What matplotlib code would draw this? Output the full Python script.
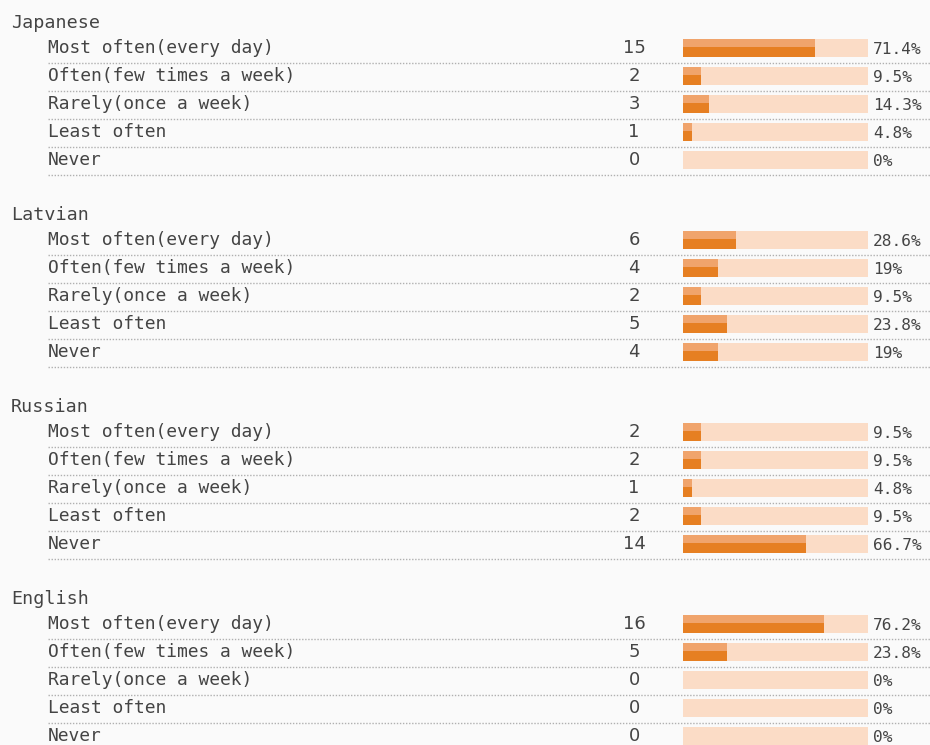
import matplotlib
matplotlib.use("Agg")
import matplotlib.pyplot as plt

groups = ["Japanese", "Latvian", "Russian", "English"]
answers = ["Most often(every day)", "Often(few times a week)", "Rarely(once a week)",
           "Least often", "Never"]
japanese = [15, 2, 3, 1, 0]
latvian = [6, 4, 2, 5, 4]
russian = [2, 2, 1, 2, 14]
english = [16, 5, 0, 0, 0]
percent_labels = [
    ["71.4%", "9.5%", "14.3%", "4.8%", "0%"],
    ["28.6%", "19%", "9.5%", "23.8%", "19%"],
    ["9.5%", "9.5%", "4.8%", "9.5%", "66.7%"],
    ["76.2%", "23.8%", "0%", "0%", "0%"],
]
counts = [japanese, latvian, russian, english]
total = 21

W, H = 930, 745
BG = "#fafafa"
TXT = "#444444"
TRACK = "#fbdcc6"
DARK = "#e67f22"
LIGHT = "#f0a46c"

fig = plt.figure(figsize=(W / 100, H / 100), dpi=100, facecolor=BG)
ax = fig.add_axes([0, 0, 1, 1])
ax.set_xlim(0, W)
ax.set_ylim(H, 0)
ax.axis("off")
ax.set_facecolor(BG)

bar_x0, bar_w = 683, 185
bx = fig.add_axes([bar_x0 / W, 0, bar_w / W, 1])
bx.set_xlim(0, 100)
bx.set_ylim(H, 0)
bx.axis("off")
bx.patch.set_alpha(0)

group_y0, group_step = 23, 192
row_off, row_step = 25, 28
bar_h = 18
mono = "DejaVu Sans Mono"
sans = "DejaVu Sans"

for g, name in enumerate(groups):
    gy = group_y0 + g * group_step
    ax.text(11, gy, name, fontsize=13.2, color=TXT, va="center", ha="left", family=mono)
    for r, ans in enumerate(answers):
        y = gy + row_off + r * row_step
        c = counts[g][r]
        pct = c / total * 100
        ax.text(48, y, ans, fontsize=12.9, color=TXT, va="center", ha="left", family=mono)
        ax.text(634, y, str(c), fontsize=13, color=TXT, va="center", ha="center", family=sans)
        ax.text(873, y + 1.5, percent_labels[g][r], fontsize=11.6, color=TXT, va="center",
                ha="left", family=mono)
        ax.plot([48, W], [y + 15, y + 15], color="#b0b0b0", lw=1.0,
                linestyle=(0, (1, 1.2)))
        bx.barh(y, 100, height=bar_h, color=TRACK, edgecolor="none")
        if pct > 0:
            bx.barh(y, pct, height=bar_h, color=DARK, edgecolor="none")
            bx.barh(y - bar_h / 2 + 4, pct, height=8, color=LIGHT, edgecolor="none")

fig.savefig("out.png", dpi=100, facecolor=BG)
